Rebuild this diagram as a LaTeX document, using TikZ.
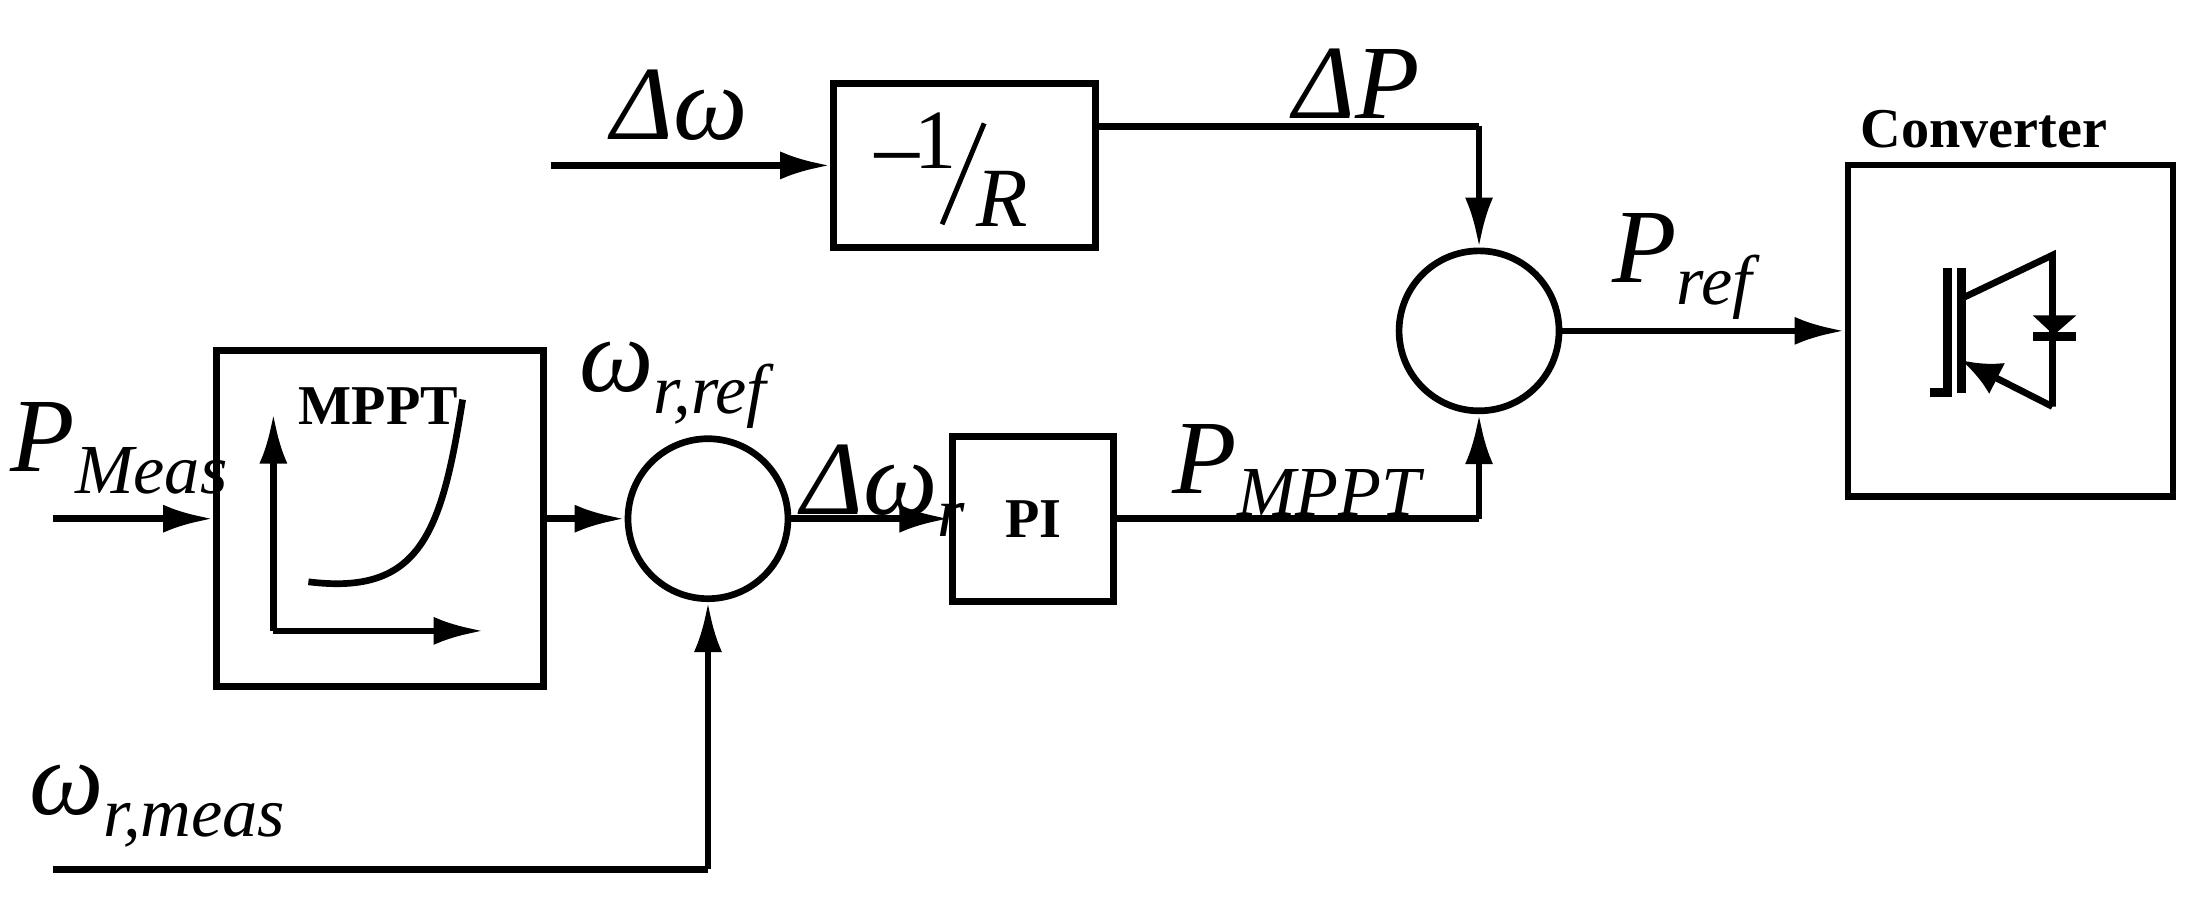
\documentclass[tikz,border=0pt]{standalone}
\usepackage{fontspec}
\setmainfont{Liberation Serif}
\usetikzlibrary{arrows.meta}
\newcommand{\sbs}[1]{\raisebox{-0.45ex}{\fontsize{20}{22}\selectfont\itshape #1}}
\tikzset{
  blk/.style={draw, line width=1.9pt, inner sep=0pt},
  sumj/.style={draw, circle, line width=1.9pt, minimum size=1.6cm, inner sep=0pt},
  sig/.style={line width=1.9pt, -{Latex[length=0.5cm,width=0.28cm]}},
  wire/.style={line width=1.9pt},
  lbl/.style={font=\fontsize{30}{32}\selectfont\itshape, inner sep=1pt},
  bfl/.style={font=\bfseries\fontsize{16}{18}\selectfont}
}
\begin{document}
\begin{tikzpicture}[x=0.01402cm, y=-0.01402cm]
  \useasboundingbox (0,0) rectangle (1560,646);
  % blocks
  \node[blk, minimum width=2.62cm, minimum height=1.64cm] (gain) at (688,118) {};
  \node[font=\fontsize{28}{30}\selectfont] (gm) at (640,122) {−};
  \node[font=\fontsize{24}{26}\selectfont] (g1) at (667,100) {1};
  \node[font=\fontsize{24}{26}\selectfont\itshape] (gr) at (715,142) {R};
  \draw[line width=1.4pt] (672,160) -- (702,88);
  \node[blk, minimum width=3.27cm, minimum height=3.36cm] (mppt) at (271,370) {};
  \node[bfl] (mpptlbl) at (270,290) {MPPT};
  \node[blk, minimum width=1.61cm, minimum height=1.65cm] (pi) at (737,370) {\bfseries\fontsize{16}{18}\selectfont PI};
  \node[blk, minimum width=3.25cm, minimum height=3.32cm] (conv) at (1434,236) {};
  \node[bfl] (convlbl) at (1415,92) {Converter};
  \node[sumj] (s1) at (505,370) {};
  \node[sumj] (s2) at (1055,236) {};
  % inputs
  \coordinate (dwin) at (393,118);
  \coordinate (pin) at (38,370);
  \coordinate (win) at (38,620);
  \coordinate (k1) at (1055,90);
  \coordinate (k2) at (1055,370);
  \coordinate (k3) at (505,620);
  % signals
  \draw[sig] (dwin) -- (gain);
  \draw[wire] (gain.east |- k1) -- (k1);
  \draw[sig] (k1) -- (s2);
  \draw[sig] (s2) -- (s2 -| conv.west);
  \draw[sig] (pin) -- (mppt);
  \draw[sig] (mppt) -- (s1);
  \draw[sig] (s1) -- (pi);
  \draw[wire] (pi) -- (k2);
  \draw[sig] (k2) -- (s2);
  \draw[wire] (win) -- (k3);
  \draw[sig] (k3) -- (s1);
  % labels
  \node[lbl] (l1) at (485,75) {Δω};
  \node[lbl] (l2) at (968,60) {ΔP};
  \node[lbl] (l3) at (1200,190) {P\sbs{ref}};
  \node[lbl] (l4) at (85,320) {P\sbs{Meas}};
  \node[lbl] (l5) at (480,275) {ω\sbs{r,ref}};
  \node[lbl] (l6) at (630,350) {Δω\sbs{r}};
  \node[lbl] (l7) at (925,335) {P\sbs{MPPT}};
  \node[lbl] (l8) at (112,575) {ω\sbs{r,meas}};
  % mppt curve
  \coordinate (ax0) at (195,450);
  \draw[sig] (ax0) -- (195,295);
  \draw[sig] (ax0) -- (345,450);
  \draw[wire] (220,415) .. controls (300,425) and (315,380) .. (330,285);
  % switch
  \draw[line width=2.5pt] (1377,280) -- (1389,280) -- (1389,191);
  \draw[line width=2.5pt] (1399,191) -- (1399,280);
  \draw[wire] (1399,213) -- (1464,182) -- (1464,290);
  \draw[line width=1.9pt, -{Latex[length=0.4cm,width=0.35cm]}] (1464,290) -- (1399,257);
  \fill (1450,225) -- (1481,225) -- (1465,239) -- cycle;
  \draw[line width=2.5pt] (1450,240) -- (1481,240);
\end{tikzpicture}
\end{document}
